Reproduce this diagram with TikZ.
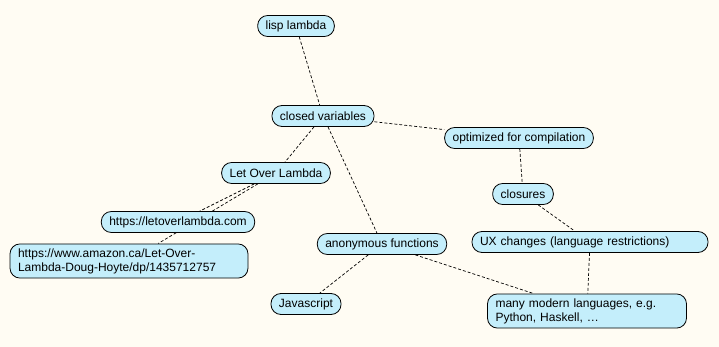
\documentclass[tikz,border=0pt]{standalone}
\usepackage{fontspec}
\setmainfont{Liberation Sans}
\usetikzlibrary{backgrounds}
\definecolor{paper}{RGB}{255,252,243}
\definecolor{bubble}{RGB}{196,238,251}

\begin{document}
\begin{tikzpicture}[x=1pt,y=-1pt,
    idea/.style={draw,fill=bubble,line width=0.8pt,rounded corners=10pt,minimum height=21pt,
        inner xsep=8pt,inner ysep=4.5pt,font=\fontsize{12}{14}\selectfont},
    link/.style={line width=0.7pt,dash pattern=on 3pt off 2pt}]
    \useasboundingbox (0,0) rectangle (719,347);
    % concepts
    \node[idea] (lisp) at (296,26) {lisp lambda};
    \node[idea] (closed) at (323,116) {closed variables};
    \node[idea] (optim) at (519,138) {optimized for compilation};
    \node[idea] (lol) at (276,173) {Let Over Lambda};
    \node[idea] (closures) at (523,194) {closures};
    \node[idea] (site) at (178,222) {https://letoverlambda.com};
    \node[idea,text width=222pt,align=left] (amazon) at (129,261) {https://www.amazon.ca/Let-Over-\\Lambda-Doug-Hoyte/dp/1435712757};
    \node[idea] (anon) at (382,244) {anonymous functions};
    \node[idea,text width=220pt,align=left] (ux) at (590,242) {UX changes (language restrictions)};
    \node[idea] (js) at (306,304) {Javascript};
    \node[idea,text width=183pt,align=left] (modern) at (587,311) {many modern languages, e.g.\\Python, Haskell, \dots};
    % links go under the bubbles
    \begin{pgfonlayer}{background}
        \fill[paper] (0,0) rectangle (719,347);
        \draw[link] (lisp)--(closed);
        \draw[link] (closed)--(optim);
        \draw[link] (closed)--(lol);
        \draw[link] (closed)--(anon);
        \draw[link] (optim)--(closures);
        \draw[link] (closures)--(ux);
        \draw[link] (lol)--(site);
        \draw[link] (lol)--(amazon);
        \draw[link] (anon)--(js);
        \draw[link] (anon)--(modern);
        \draw[link] (ux)--(modern);
    \end{pgfonlayer}
\end{tikzpicture}
\end{document}
